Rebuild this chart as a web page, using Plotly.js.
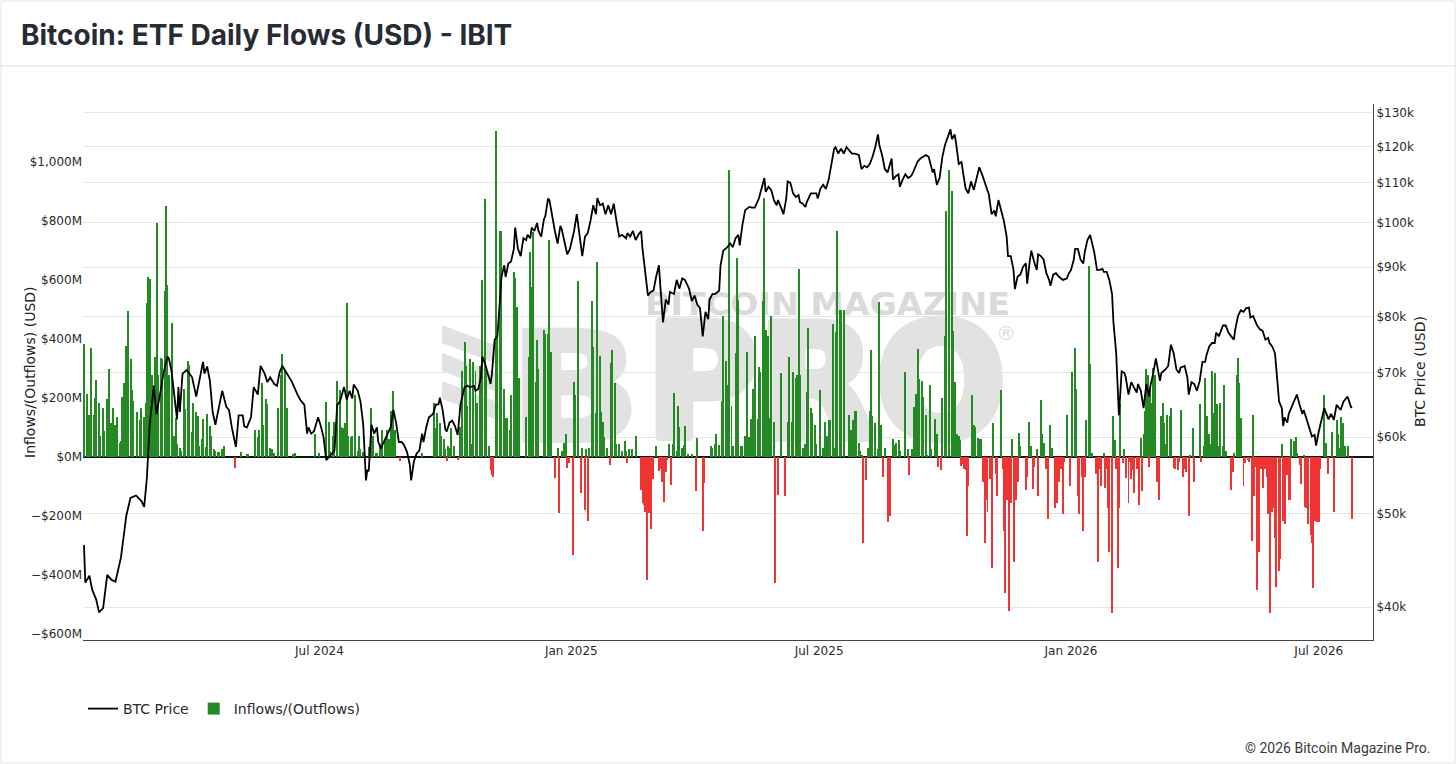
<!DOCTYPE html>
<html><head><meta charset="utf-8">
<script src="https://cdn.plot.ly/plotly-3.0.1.min.js"></script>
<style>html,body{margin:0;padding:0;background:#fff;}#chart{width:1456px;height:764px;}</style>
</head><body><div id="chart"></div>
<script>
// Day 0 = 2024-01-11 (IBIT launch). Entries are [days since launch, value].
const LAUNCH_UTC = Date.UTC(2024, 0, 11);

// BTC price, $k
const price2024 = [[0,46.4],[1,42.4],[4,43.1],[6,41.7],[9,40.7],[11,39.5],[14,39.9],[17,43.2],[20,42.7],[23,42.5],[27,45.0],[29,47.6],[31,49.8],[34,51.9],[38,52.2],[42,51.5],[44,50.8],[46,54.5],[48,61.8],[51,67.8],[53,63.4],[56,67.0],[58,69.8],[61,72.7],[62,72.4],[64,70.2],[66,65.8],[68,62.6],[69,67.6],[70,63.7],[72,69.8],[75,70.4],[77,69.8],[79,69.2],[82,66.1],[84,68.6],[87,71.8],[88,69.8],[90,71.0],[92,68.6],[94,63.7],[96,61.8],[99,64.8],[101,67.0],[104,64.5],[106,64.0],[108,61.4],[111,58.6],[113,63.2],[116,63.2],[117,61.6],[119,61.4],[122,62.9],[124,67.6],[127,66.4],[129,71.1],[132,69.8],[134,68.4],[136,69.2],[139,68.1],[141,67.8],[143,70.1],[145,71.1],[147,70.3],[150,69.2],[152,68.4],[156,66.4],[158,65.6],[161,64.8],[163,60.5],[164,61.4],[166,60.5],[168,60.8],[171,62.9],[173,61.6],[175,60.0],[177,56.8],[179,57.2],[181,57.7],[183,58.1],[185,64.8],[187,65.3],[190,67.6],[192,65.6],[194,67.0],[196,65.8],[197,68.0],[200,67.0],[202,65.3],[204,61.8],[206,54.1],[207,55.5],[208,55.3],[210,61.8],[212,60.5],[214,61.4],[215,59.3],[217,58.4],[219,59.3],[222,60.5],[224,61.4],[226,64.0],[228,62.1],[230,59.3],[232,59.3],[234,58.8],[236,57.9],[238,56.2],[239,54.1],[241,56.6],[243,57.7],[245,58.1],[247,60.5],[248,59.3],[250,61.4],[252,62.9],[255,63.4],[257,64.8],[259,64.9],[260,65.9],[262,64.0],[264,61.1],[265,60.8],[267,62.1],[269,62.4],[271,61.6],[273,60.3],[275,64.8],[278,67.6],[280,67.8],[282,67.6],[285,67.8],[286,67.0],[288,67.3],[290,69.2],[291,72.7],[293,71.5],[295,69.8],[297,68.1],[298,69.8],[300,75.7],[302,76.3],[304,84.4],[305,88.0],[307,90.4],[308,87.9],[310,90.8],[312,91.2],[314,94.0],[315,98.9],[317,94.0],[319,92.4],[321,96.4],[323,96.0],[324,97.2],[326,96.4],[327,98.9],[329,98.1],[331,100.0],[332,98.1],[334,96.8],[336,100.9],[337,101.6],[339,106.0],[340,105.6],[342,101.6],[344,98.1],[346,95.2],[348,99.3],[349,98.5],[351,95.2],[353,92.8],[355,94.0]];
const price2025 = [[358,98.1],[360,102.1],[362,96.4],[364,92.4],[366,96.8],[368,97.6],[370,100.5],[372,104.3],[374,102.1],[375,106.1],[377,104.3],[379,104.7],[381,102.1],[383,104.3],[385,102.1],[387,104.7],[389,100.4],[391,96.8],[393,97.2],[396,96.4],[397,97.6],[399,96.8],[401,98.1],[403,96.0],[405,97.2],[407,98.1],[408,94.0],[410,88.7],[412,84.1],[414,84.8],[416,85.1],[418,88.0],[420,90.4],[421,86.1],[423,78.9],[425,83.3],[427,82.3],[428,84.8],[431,84.4],[433,87.3],[435,85.5],[437,87.6],[439,87.3],[442,85.5],[444,83.0],[446,84.1],[448,82.3],[450,81.6],[452,76.3],[454,80.9],[456,79.5],[457,83.3],[459,84.4],[461,84.4],[464,85.1],[465,90.4],[467,93.6],[470,94.4],[472,95.2],[474,94.4],[476,96.4],[478,97.2],[479,94.8],[481,99.6],[483,103.1],[486,103.9],[488,103.7],[490,103.7],[493,106.0],[495,108.6],[497,111.3],[498,107.7],[500,109.0],[502,108.2],[504,105.6],[506,104.3],[507,105.6],[509,103.9],[511,102.1],[513,106.0],[514,110.4],[516,110.0],[518,107.3],[520,106.4],[522,106.9],[523,105.1],[525,104.7],[527,103.9],[528,105.1],[531,107.3],[533,107.3],[535,107.3],[536,106.0],[538,108.6],[540,109.5],[542,108.4],[544,110.9],[546,114.6],[548,119.4],[549,119.8],[551,118.0],[553,119.4],[555,118.0],[557,119.8],[559,118.9],[561,118.0],[563,118.0],[566,117.6],[568,113.7],[570,114.6],[572,114.2],[574,115.1],[576,117.1],[578,119.8],[580,123.5],[581,120.4],[583,117.6],[585,113.7],[587,112.8],[588,114.2],[590,116.6],[591,110.9],[593,111.8],[595,112.3],[596,109.0],[598,110.9],[600,112.3],[602,111.3],[604,111.8],[605,112.3],[607,114.2],[609,115.8],[611,116.6],[613,117.1],[615,117.6],[617,117.1],[618,115.6],[620,112.8],[621,113.7],[623,109.5],[625,111.3],[627,117.0],[629,120.5],[631,122.6],[633,125.0],[634,122.1],[636,123.5],[637,121.1],[639,115.1],[641,115.6],[642,113.3],[644,108.6],[646,107.3],[648,110.4],[650,108.2],[652,110.9],[654,114.2],[656,112.3],[658,110.0],[660,108.2],[661,107.0],[663,102.1],[665,103.0],[666,101.6],[668,105.6],[670,103.0],[672,100.4],[674,96.8],[675,92.4],[677,92.4],[679,89.4],[680,85.4],[682,88.0],[684,88.4],[686,90.1],[688,90.8],[689,86.5],[691,91.6],[692,93.6],[694,91.2],[696,89.4],[697,92.8],[699,92.4],[701,91.6],[703,88.7],[705,87.3],[706,86.1],[708,88.4],[710,88.7],[712,88.0],[714,87.6],[715,87.3],[718,87.6],[719,88.4]];
const price2026 = [[721,89.4],[723,91.6],[724,94.0],[726,94.0],[728,91.6],[730,90.8],[731,93.2],[733,96.0],[735,97.2],[736,96.0],[738,93.2],[740,89.4],[742,89.4],[744,89.6],[745,89.0],[747,89.0],[749,87.3],[751,84.4],[752,78.9],[754,73.3],[756,63.2],[758,70.2],[760,69.9],[761,69.2],[763,66.4],[765,68.4],[767,67.6],[769,66.7],[770,68.1],[772,67.0],[774,64.3],[776,68.1],[778,66.1],[779,67.8],[781,69.8],[783,72.4],[785,69.8],[786,68.6],[787,69.9],[790,70.5],[792,71.1],[794,74.8],[796,73.3],[798,70.5],[800,69.9],[801,70.8],[804,71.1],[806,69.2],[807,66.4],[809,68.4],[811,68.1],[813,67.0],[815,68.6],[817,71.8],[819,71.8],[820,73.0],[822,74.5],[824,75.1],[826,75.1],[827,77.0],[829,76.3],[831,77.6],[832,78.3],[834,78.3],[836,77.0],[838,76.3],[840,75.7],[841,77.6],[843,80.1],[845,81.2],[847,80.9],[849,81.6],[851,81.7],[852,79.8],[854,80.1],[856,78.9],[857,78.3],[859,77.6],[861,77.3],[863,75.7],[865,76.0],[866,75.1],[868,74.5],[870,73.3],[871,70.2],[873,65.3],[875,64.3],[876,61.6],[877,62.9],[879,62.1],[880,63.4],[882,64.3],[884,65.3],[886,66.4],[888,64.8],[890,63.4],[891,64.0],[893,62.6],[895,61.1],[897,60.1],[899,60.3],[900,58.8],[902,60.8],[904,62.6],[906,64.3],[908,63.2],[909,62.6],[911,63.4],[913,62.5],[915,64.8],[916,64.5],[918,64.0],[920,65.3],[922,65.9],[923,66.1],[925,64.8],[926,64.3]];

// IBIT daily net flows, $M
const flows2024 = [[0,383],[2,214],[4,144],[5,371],[7,144],[8,199],[9,262],[11,185],[12,70],[14,167],[15,88],[17,197],[18,299],[20,114],[21,167],[23,108],[24,135],[26,49],[27,55],[28,203],[29,250],[31,376],[32,495],[34,332],[35,226],[36,191],[39,153],[41,126],[42,167],[44,135],[45,185],[46,521],[47,611],[48,603],[50,279],[51,244],[52,338],[53,792],[54,279],[56,336],[57,332],[59,564],[60,851],[61,585],[62,279],[64,453],[66,73],[67,132],[68,46],[70,32],[71,20],[73,230],[74,164],[76,326],[77,312],[79,85],[80,185],[82,152],[83,140],[84,37],[86,61],[87,128],[89,34],[90,147],[92,105],[93,73],[95,26],[96,20],[98,18],[99,18],[101,26],[102,38],[110,-37],[115,18],[119,11],[120,11],[125,93],[127,67],[128,93],[130,250],[131,108],[133,197],[134,181],[136,32],[137,26],[139,14],[142,167],[144,277],[145,348],[147,293],[148,167],[153,11],[154,14],[169,79],[172,14],[177,187],[179,120],[180,20],[182,70],[183,118],[185,259],[187,226],[188,102],[189,97],[191,114],[192,524],[193,70],[195,67],[196,70],[198,209],[200,20],[201,70],[202,26],[204,18],[208,34],[210,167],[211,70],[213,14],[214,14],[216,44],[217,20],[218,91],[220,61],[221,91],[223,61],[224,155],[226,223],[227,91],[231,-13],[247,14],[256,185],[257,97],[258,150],[260,114],[261,73],[263,61],[264,26],[265,-12],[266,38],[267,32],[268,97],[270,38],[273,-9],[275,102],[276,291],[278,391],[279,309],[280,173],[282,332],[283,44],[284,324],[286,291],[287,185],[289,309],[290,232],[291,600],[293,876],[294,303],[296,38],[297,-45],[298,-62],[299,-68],[301,1107],[302,421],[304,765],[305,765],[307,232],[308,132],[309,132],[311,91],[312,211],[314,627],[315,607],[316,509],[318,267],[323,135],[325,338],[326,695],[327,575],[328,762],[330,253],[331,397],[332,297],[336,432],[337,418],[339,418],[340,735],[341,356],[344,-72],[346,32],[347,-188],[349,22],[351,49],[352,79],[353,-37],[354,-21],[355,-4]];
const flows2025 = [[357,-331],[358,253],[359,209],[361,596],[363,-121],[364,32],[366,-180],[367,28],[368,-216],[369,32],[371,529],[372,373],[374,150],[375,663],[377,344],[378,152],[379,120],[380,67],[382,32],[384,-27],[385,320],[386,364],[388,250],[389,44],[391,44],[393,22],[395,55],[396,22],[397,-21],[398,29],[400,26],[403,70],[407,-110],[408,-157],[409,-163],[410,-186],[411,-418],[413,-190],[414,-245],[416,-74],[418,38],[420,-48],[421,-39],[422,-86],[424,-151],[425,-51],[426,-9],[427,44],[429,-95],[430,44],[431,218],[433,20],[434,173],[435,102],[437,32],[438,40],[439,105],[441,11],[444,11],[447,-115],[448,65],[452,-251],[453,-88],[458,37],[459,32],[461,44],[462,79],[464,40],[466,191],[467,479],[469,326],[470,244],[471,974],[473,173],[474,38],[476,352],[477,676],[478,532],[480,38],[481,38],[483,70],[484,356],[486,67],[487,128],[489,232],[490,409],[492,128],[493,305],[494,289],[496,529],[497,878],[498,432],[500,409],[501,132],[502,479],[504,120],[505,-428],[507,-127],[509,285],[512,-131],[514,120],[515,338],[517,120],[518,287],[520,267],[521,279],[522,638],[523,279],[525,32],[527,44],[528,220],[529,438],[531,167],[532,150],[534,108],[535,44],[538,226],[540,32],[541,120],[543,73],[544,126],[545,126],[547,450],[548,32],[549,423],[550,765],[552,499],[553,497],[555,497],[559,144],[560,91],[562,126],[563,155],[564,158],[566,49],[567,20],[568,8],[569,-292],[571,-77],[573,32],[574,158],[575,362],[576,140],[578,114],[580,29],[581,527],[582,108],[584,-68],[585,32],[587,-219],[588,-127],[589,-198],[591,61],[592,40],[593,49],[595,58],[596,20],[600,289],[602,26],[603,-62],[605,26],[606,171],[608,214],[609,368],[610,264],[612,258],[613,203],[615,144],[616,8],[618,246],[619,26],[622,128],[623,79],[624,-33],[626,-45],[627,199],[629,409],[630,833],[632,974],[634,901],[635,426],[636,256],[638,77],[639,73],[640,58],[641,-29],[642,-25],[643,-39],[644,-45],[645,-269],[646,-98],[649,211],[650,108],[651,102],[653,65],[654,61],[655,61],[657,-86],[658,-292],[659,-145],[660,-186],[662,-74],[663,-375],[664,114],[666,-57],[667,-131],[670,226],[671,-39],[672,-251],[673,-462],[674,-145],[676,-522],[677,-157],[678,61],[679,-357],[681,-145],[682,-86],[683,81],[684,38],[688,-110],[689,-68],[690,120],[692,38],[693,-107],[694,-33],[696,26],[697,-133],[699,193],[700,79],[701,49],[703,-39],[704,-210],[706,108],[707,32],[709,-174],[710,-9],[711,-157],[712,-86],[714,-39],[715,-192],[716,-15],[718,144],[720,-98]];
const flows2026 = [[722,287],[724,371],[725,232],[726,-133],[727,-192],[729,-68],[730,-251],[731,-68],[732,126],[734,649],[735,315],[736,14],[739,-57],[741,-357],[742,-39],[743,-98],[745,14],[746,-104],[747,-39],[748,-174],[749,-322],[751,-528],[752,140],[753,58],[754,-39],[755,-375],[756,-174],[757,179],[759,-21],[760,26],[761,-72],[763,-157],[764,-15],[765,-74],[766,-45],[767,-121],[769,-39],[770,-21],[771,-163],[772,65],[773,-115],[774,77],[775,155],[776,297],[777,279],[778,-33],[779,226],[780,185],[781,303],[782,279],[784,-86],[785,-145],[787,140],[788,185],[789,114],[790,44],[791,144],[793,138],[794,167],[796,-37],[797,-41],[799,-45],[800,-15],[801,161],[803,-68],[804,-39],[805,-51],[807,-198],[808,6],[810,97],[811,-86],[815,181],[816,-15],[818,38],[819,267],[820,138],[822,79],[823,44],[824,291],[825,150],[826,285],[828,179],[829,38],[830,185],[832,38],[833,246],[834,20],[838,-110],[839,-51],[840,14],[842,279],[843,336],[844,250],[845,132],[847,-98],[848,-21],[850,-9],[851,-15],[853,-286],[854,144],[855,-133],[856,-33],[857,-451],[858,-322],[860,-39],[861,-104],[863,-39],[864,-68],[865,-192],[866,-528],[868,-186],[869,-174],[870,-274],[871,-439],[873,-386],[874,-345],[875,44],[876,-216],[877,-227],[879,-62],[880,-145],[881,-145],[882,61],[884,55],[885,67],[886,14],[888,-27],[889,-92],[891,8],[892,-168],[893,-174],[894,-227],[896,-263],[897,-292],[898,-445],[899,-216],[901,-221],[902,-221],[903,-39],[906,209],[907,49],[909,-57],[912,85],[913,-186],[915,126],[916,79],[917,32],[918,135],[920,114],[921,38],[923,38],[926,-210]];

// Tick labels
const flowTickVals = [-600,-400,-200,0,200,400,600,800,1000];
const flowTickText = ['\u2212$600M','\u2212$400M','\u2212$200M','$0M','$200M','$400M','$600M','$800M','$1,000M'];
const priceTickVals = [40,50,60,70,80,90,100,110,120,130];
const priceTickText = ['$40k','$50k','$60k','$70k','$80k','$90k','$100k','$110k','$120k','$130k'];

function dayToDate(d) {
  return new Date(LAUNCH_UTC + d * 86400000).toISOString().replace('T', ' ').replace('Z', '');
}

const priceAll = price2024.concat(price2025, price2026);
const flowsAll = flows2024.concat(flows2025, flows2026);

const GREEN = '#238a23', RED = '#f03333';

// plot-area geometry in page px, used to place paper-referenced decorations
const PL = 83, PR = 1373, PT = 104, PB = 640;
const px = x => (x - PL) / (PR - PL);
const py = y => (PB - y) / (PB - PT);

// watermark as an inline svg (data URI, no network)
const wm = '<svg xmlns="http://www.w3.org/2000/svg" width="575" height="160" viewBox="0 0 575 160">' +
  '<g fill="#e2e2e2">' +
  '<polygon points="2,40 60,62 60,80 2,58"/>' +
  '<polygon points="2,68 60,90 60,108 2,86"/>' +
  '<polygon points="2,96 60,118 60,136 2,114"/>' +
  '<text x="70" y="155" font-family="DejaVu Sans" font-weight="bold" font-size="150" textLength="130" lengthAdjust="spacingAndGlyphs" stroke="#e2e2e2" stroke-width="6">B</text>' +
  '</g>' +
  '<text x="205" y="30" fill="#dadada" font-family="DejaVu Sans" font-weight="bold" font-size="32" textLength="365" lengthAdjust="spacingAndGlyphs">BITCOIN MAGAZINE</text>' +
  '<text x="206" y="152" fill="#e2e2e2" stroke="#e2e2e2" stroke-width="9" stroke-linejoin="round" font-family="DejaVu Sans" font-weight="bold" font-size="156" textLength="360" lengthAdjust="spacingAndGlyphs">PRO</text>' +
  '<text x="556" y="55" fill="#e0e0e0" font-family="DejaVu Sans" font-size="20">\u00AE</text>' +
  '</svg>';
const wmURI = 'data:image/svg+xml;charset=utf-8,' + encodeURIComponent(wm);

const traces = [
  {
    type: 'scatter', mode: 'lines', name: 'BTC Price',
    x: priceAll.map(p => dayToDate(p[0])), y: priceAll.map(p => p[1]),
    yaxis: 'y2', line: {color: '#000', width: 1.8}, hoverinfo: 'skip'
  },
  {
    type: 'bar', name: 'Inflows/(Outflows)',
    x: flowsAll.map(f => dayToDate(f[0])), y: flowsAll.map(f => f[1]),
    width: 1.45 * 86400000,
    marker: {color: flowsAll.map(f => f[1] >= 0 ? GREEN : RED), line: {width: 0}},
    hoverinfo: 'skip'
  }
];

const tickFont = {family: 'DejaVu Sans, Verdana, sans-serif', size: 12, color: '#2a2a2a'};

const layout = {
  width: 1456, height: 764,
  margin: {l: PL, r: 1456 - PR, t: PT, b: 764 - PB, pad: 0},
  paper_bgcolor: '#fff', plot_bgcolor: 'rgba(0,0,0,0)',
  showlegend: true,
  title: {
    text: 'Bitcoin: ETF Daily Flows (USD) - IBIT',
    xref: 'container', yref: 'container', x: 21 / 1456, xanchor: 'left', y: 1 - 35 / 764, yanchor: 'middle',
    font: {family: 'Inter, Roboto, sans-serif', size: 28, weight: 700, color: '#262b34'}
  },
  xaxis: {
    type: 'date',
    range: [dayToDate(-0.7), dayToDate(941.6)],
    tick0: '2024-01-01', dtick: 'M6', tickformat: '%b %Y',
    showgrid: false, zeroline: false,
    showline: true, linecolor: '#444', linewidth: 1,
    ticks: '', tickfont: tickFont
  },
  yaxis: {
    range: [-620, 1197],
    tickmode: 'array', tickvals: flowTickVals, ticktext: flowTickText,
    showgrid: false, zeroline: true, zerolinecolor: '#111', zerolinewidth: 1.5,
    showline: false, ticks: '', tickfont: tickFont
  },
  yaxis2: {
    type: 'log', overlaying: 'y', side: 'right',
    range: [Math.log10(36.98), Math.log10(132.8)],
    tickmode: 'array', tickvals: priceTickVals, ticktext: priceTickText,
    showgrid: true, gridcolor: '#e6e6e6', gridwidth: 1,
    zeroline: false, showline: true, linecolor: '#444', linewidth: 1,
    ticks: '', tickfont: tickFont
  },
  legend: {
    orientation: 'h', x: 0, xanchor: 'left', y: py(709), yanchor: 'middle',
    font: {family: 'DejaVu Sans, Verdana, sans-serif', size: 14, color: '#2a2a2a'},
    bgcolor: 'rgba(0,0,0,0)', traceorder: 'normal'
  },
  bargap: 0,
  annotations: [
    {text: 'Inflows/(Outflows) (USD)', xref: 'paper', yref: 'paper', x: px(30), y: 0.5,
     textangle: -90, showarrow: false, xanchor: 'center', yanchor: 'middle',
     font: {family: 'DejaVu Sans, Verdana, sans-serif', size: 14, color: '#222'}},
    {text: 'BTC Price (USD)', xref: 'paper', yref: 'paper', x: px(1420), y: 0.5,
     textangle: -90, showarrow: false, xanchor: 'center', yanchor: 'middle',
     font: {family: 'DejaVu Sans, Verdana, sans-serif', size: 14, color: '#222'}},
    {text: '\u00A9 2026 Bitcoin Magazine Pro.', xref: 'paper', yref: 'paper', x: px(1432), y: py(748),
     showarrow: false, xanchor: 'right', yanchor: 'middle',
     font: {family: 'Roboto, Inter, sans-serif', size: 14, color: '#3a3a3a'}}
  ],
  shapes: [
    {type: 'line', xref: 'paper', yref: 'paper', x0: px(0), x1: px(1456), y0: py(66), y1: py(66),
     line: {color: '#dedede', width: 1}},
    {type: 'rect', xref: 'paper', yref: 'paper', x0: px(1), x1: px(1455), y0: py(763), y1: py(1),
     line: {color: '#e4e4e4', width: 1}}
  ],
  images: [
    {source: wmURI, xref: 'paper', yref: 'paper', x: px(440), y: py(285), sizex: px(1015) - px(440),
     sizey: py(285) - py(445), xanchor: 'left', yanchor: 'top', sizing: 'stretch', layer: 'below', opacity: 1}
  ]
};

Plotly.newPlot('chart', traces, layout, {staticPlot: true, displayModeBar: false});
</script>
</body></html>
